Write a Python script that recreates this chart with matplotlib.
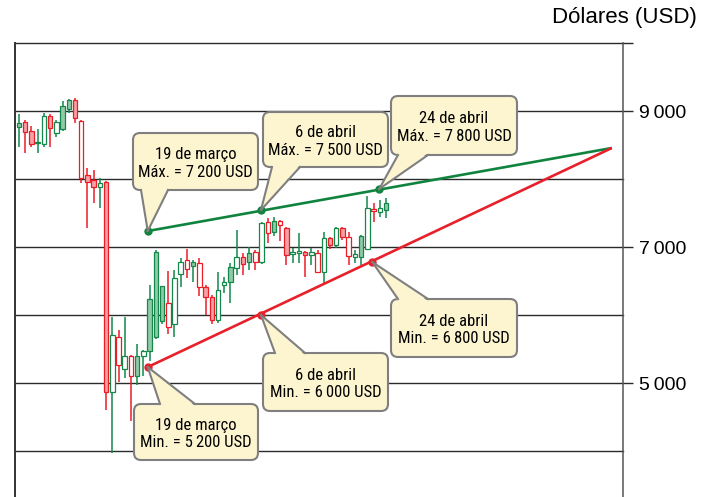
import matplotlib
matplotlib.use("Agg")
import matplotlib.pyplot as plt
from matplotlib.patches import FancyBboxPatch, Polygon
from matplotlib.lines import Line2D
from matplotlib.transforms import IdentityTransform
import numpy as np

plt.rcParams["font.family"] = ["Liberation Sans", "DejaVu Sans"]

# daily candles, 27 Feb .. 26 Apr
opens = [8765, 8843, 8710, 8530, 8510, 8926, 8672, 8730, 9025, 9162,
         8858, 8059, 7985, 7887, 7960, 4872, 5681, 5201, 5392, 5098,
         5392, 5475, 5681, 5907, 6176, 5873, 6600, 6804, 6725, 6770,
         6417, 6270, 5927, 6441, 6480, 6686, 6848, 6784, 6931, 6784,
         7373, 7225, 7387, 7284, 6897, 6907, 6931, 6882, 6916, 6637,
         7128, 7029, 7275, 7152, 6858, 6858, 6970, 7559, 7520, 7544]
highs = [8956, 8868, 8784, 8735, 8966, 8956, 8868, 9147, 9176, 9186,
         8868, 8157, 8132, 8010, 7975, 5978, 5779, 5978, 5412, 5574,
         5485, 6441, 6956, 6431, 6642, 6662, 6834, 6970, 6809, 6843,
         6440, 6300, 6637, 6564, 6760, 7250, 6907, 7005, 6956, 7373,
         7422, 7446, 7400, 7300, 6981, 7201, 6940, 6990, 6956, 7225,
         7152, 7299, 7290, 7225, 6956, 7176, 7755, 7643, 7691, 7716]
lows = [8471, 8387, 8466, 8387, 8475, 8466, 8622, 8710, 8966, 8819,
        7946, 7275, 7643, 7569, 4603, 3966, 5015, 5069, 4436, 4971,
        5098, 5328, 5650, 5870, 5720, 5681, 6417, 6540, 6490, 6279,
        6000, 5868, 5878, 6319, 6172, 6588, 6588, 6662, 6662, 6745,
        7054, 7162, 7093, 6735, 6760, 6760, 6564, 6735, 6613, 6466,
        6970, 6981, 7103, 6735, 6760, 6735, 6960, 7373, 7446, 7422]
closes = [8824, 8687, 8515, 8549, 8926, 8745, 8843, 9074, 9162, 8892,
          8010, 7960, 7887, 7946, 4867, 5706, 5265, 5392, 5098, 5392,
          5475, 6231, 6931, 6421, 5820, 6549, 6784, 6676, 6775, 6417,
          6270, 5927, 6368, 6481, 6710, 6858, 6750, 6907, 6784, 7358,
          7201, 7387, 7324, 6882, 6931, 6946, 6882, 6922, 6637, 7137,
          7029, 7284, 7152, 6868, 6897, 7167, 7578, 7529, 7569, 7643]
# 1 = body drawn with light fill, 0 = hollow body
filled = [1, 1, 1, 1, 0, 1, 0, 1, 1, 1,
          0, 1, 1, 0, 1, 0, 0, 0, 0, 1,
          0, 1, 1, 1, 0, 0, 0, 0, 1, 0,
          1, 1, 0, 0, 1, 0, 1, 1, 0, 0,
          0, 1, 0, 1, 0, 0, 1, 0, 0, 0,
          1, 0, 1, 0, 0, 1, 0, 0, 0, 1]

# trend lines (x in candle slots, value in USD)
high_x = [20.7, 38.9, 57.9]
high_y = [7235, 7544, 7853]
low_x = [20.7, 38.9, 56.8]
low_y = [5235, 6000, 6779]
apex_x, apex_y = 95.3, 8456
high_labels = ["19 de março\nMáx. = 7\u2009200 USD",
               "6 de abril\nMáx. = 7\u2009500 USD",
               "24 de abril\nMáx. = 7\u2009800 USD"]
low_labels = ["19 de março\nMin. = 5\u2009200 USD",
              "6 de abril\nMin. = 6\u2009000 USD",
              "24 de abril\nMin. = 6\u2009800 USD"]
grid_levels = [4000, 5000, 6000, 7000, 8000, 9000, 10000]
tick_levels = [5000, 7000, 9000, 10000]
tick_labels = ["5\u2009000", "7\u2009000", "9\u2009000", ""]

GREEN, GREEN_FC = "#14884a", "#92caa7"
RED, RED_FC = "#ea1d27", "#f5a1a5"
TL_GREEN, TL_RED = "#10843f", "#e8202a"
BOX_FC, BOX_EC = "#fdf5d0", "#7f7f7f"
BOX_FONT = ["Roboto Condensed", "Liberation Sans", "DejaVu Sans"]

W, H = 703, 497
fig = plt.figure(figsize=(W / 100, H / 100), dpi=100)
ax = fig.add_axes([15 / W, 0, (623 - 15) / W, 1 - 43 / H])
ax.set_xlim(-0.64, 97.1)
ax.set_ylim(3324, 10000)

for lv in grid_levels:
    ax.axhline(lv, color="#2a2a2a", lw=1.0, zorder=1, clip_on=False)

# candles
x = np.arange(len(opens))
o, h, l, c = map(np.array, (opens, highs, lows, closes))
up = c >= o
edge = np.where(up, GREEN, RED)
face = [(GREEN_FC if u else RED_FC) if f else "white" for u, f in zip(up, filled)]
ax.vlines(x, l, h, colors=edge, lw=1.1, zorder=2)
body_lo = np.minimum(o, c)
body_h = np.maximum(np.abs(c - o), 18)
ax.bar(x, body_h, bottom=body_lo, width=0.72, color=face, edgecolor=edge,
       linewidth=0.9, zorder=3)

# trend lines
ax.plot([high_x[0], apex_x], [high_y[0], apex_y], color=TL_GREEN, lw=1.9, zorder=4,
        solid_capstyle="butt")
ax.plot([low_x[0], apex_x], [low_y[0], apex_y], color=TL_RED, lw=1.9, zorder=4,
        solid_capstyle="butt")
ax.plot(high_x, high_y, "o", color=TL_GREEN, ms=5, zorder=8)
ax.plot(low_x, low_y, "o", color=TL_RED, ms=5, zorder=8)

# axis styling
for s in ("top", "bottom"):
    ax.spines[s].set_visible(False)
ax.spines["left"].set_color("#333333")
ax.spines["left"].set_linewidth(1.4)
ax.spines["right"].set_color("#555555")
ax.spines["right"].set_linewidth(1.1)
ax.set_xticks([])
ax.yaxis.tick_right()
ax.set_yticks(tick_levels)
ax.set_yticklabels(tick_labels)
ax.tick_params(axis="y", direction="out", length=7.2, width=1.0, color="#2a2a2a",
               pad=4, labelsize=14)
fig.text(697 / W, 1 - 18 / H, "Dólares (USD)", ha="right", va="center", fontsize=16)

# callout boxes: (x0, y0, x1, y1) in image pixels and wedge base span
boxes = [(133, 133, 258, 190, 141, 168), (263, 112, 388, 167, 272, 300),
         (391, 96, 517, 155, 398, 428), (134, 404, 258, 460, 160, 195),
         (263, 353, 388, 411, 275, 305), (391, 299, 517, 357, 398, 428)]
anchors = list(zip(high_x, high_y)) + list(zip(low_x, low_y))
labels = high_labels + low_labels
idt = IdentityTransform()
for (x0, y0, x1, y1, b0, b1), pt, txt in zip(boxes, anchors, labels):
    px, py = ax.transData.transform(pt)
    bot, top = H - y1, H - y0
    fig.add_artist(FancyBboxPatch((x0, bot), x1 - x0, top - bot,
                                  boxstyle="round,pad=0,rounding_size=7", transform=idt,
                                  fc=BOX_FC, ec=BOX_EC, lw=1.5, zorder=5))
    if py < bot:
        ey, inner = bot, bot + 2
    else:
        ey, inner = top, top - 2
    fig.add_artist(Polygon([(b0, inner), (b1, inner), (px, py)], closed=True,
                           transform=idt, fc=BOX_FC, ec="none", zorder=6))
    for bx in (b0, b1):
        fig.add_artist(Line2D([bx, px], [ey, py], transform=idt, color=BOX_EC,
                              lw=1.5, zorder=6))
    fig.text((x0 + x1) / 2 / W, 1 - ((y0 + y1) / 2 + 2) / H, txt, ha="center",
             va="center", fontsize=12, linespacing=1.2, zorder=7, family=BOX_FONT)

fig.savefig("out.png", dpi=100)
